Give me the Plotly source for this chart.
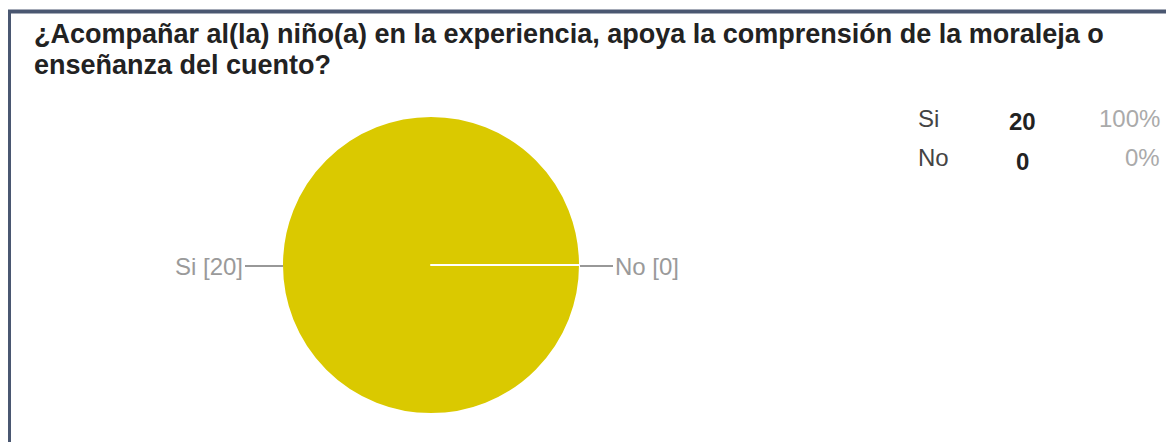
import plotly.graph_objects as go

title_lines = ["¿Acompañar al(la) niño(a) en la experiencia, apoya la comprensión de la moraleja o",
               "enseñanza del cuento?"]
categories = ["Si", "No"]
counts = [20, 0]
total = sum(counts)
percents = [f"{round(100 * c / total)}%" for c in counts]

W, H = 1174, 442
OFF = 8  # page body margin


def px(x):
    return (x - OFF) / W


def py(y):
    return 1 - (y - OFF) / H


FONT = "Liberation Sans, Arial"
fig = go.Figure()
fig.add_trace(go.Pie(
    labels=categories, values=counts, sort=False, direction="clockwise",
    rotation=90, textinfo="none", hoverinfo="label+value+percent",
    marker=dict(colors=["#DAC900", "#DAC900"], line=dict(color="white", width=2)),
    domain=dict(x=[px(282), px(580)], y=[py(414), py(116)]),
    showlegend=False,
))

ann = []
for i, (line, yc) in enumerate(zip(title_lines, [34, 65])):
    ann.append(dict(x=px(32), y=py(yc), xref="paper", yref="paper", xanchor="left", yanchor="middle",
                    text="<b>" + line + "</b>", showarrow=False,
                    font=dict(family=FONT, size=27, color="#222")))

# pie labels with leader lines
cy = py(266)
ann.append(dict(x=px(283), y=cy, xref="paper", yref="paper", text=f"{categories[0]} [{counts[0]}]",
                showarrow=True, arrowhead=0, arrowwidth=1.5, arrowcolor="#777", ax=-38, ay=0,
                xanchor="right", font=dict(family=FONT, size=24, color="#9a9a9a")))
ann.append(dict(x=px(580), y=cy, xref="paper", yref="paper", text=f"{categories[1]} [{counts[1]}]",
                showarrow=True, arrowhead=0, arrowwidth=1.5, arrowcolor="#777", ax=33, ay=0,
                xanchor="left", font=dict(family=FONT, size=24, color="#9a9a9a")))

# summary table
rows_y = [118, 157]
for i, cat in enumerate(categories):
    y = py(rows_y[i])
    ann.append(dict(x=px(916), y=y, xref="paper", yref="paper", xanchor="left", yanchor="middle",
                    text=cat, showarrow=False, font=dict(family=FONT, size=24, color="#444")))
    ann.append(dict(x=px(1023), y=py(rows_y[i] + 4), xref="paper", yref="paper", xanchor="center",
                    yanchor="middle", text=f"<b>{counts[i]}</b>", showarrow=False,
                    font=dict(family=FONT, size=24, color="#222")))
    ann.append(dict(x=px(1162), y=y, xref="paper", yref="paper", xanchor="right", yanchor="middle",
                    text=percents[i], showarrow=False,
                    font=dict(family=FONT, size=24, color="#aaaaaa")))

shapes = [
    dict(type="line", xref="paper", yref="paper", x0=0, x1=1, y0=py(11.5), y1=py(11.5),
         line=dict(color="#4a5771", width=4)),
    dict(type="line", xref="paper", yref="paper", x0=1.5 / W, x1=1.5 / W, y0=0, y1=py(10),
         line=dict(color="#4a5771", width=3)),
]

fig.update_layout(width=W, height=H, margin=dict(l=0, r=0, t=0, b=0),
                  paper_bgcolor="white", plot_bgcolor="white",
                  annotations=ann, shapes=shapes)
fig.write_html("out.html")
